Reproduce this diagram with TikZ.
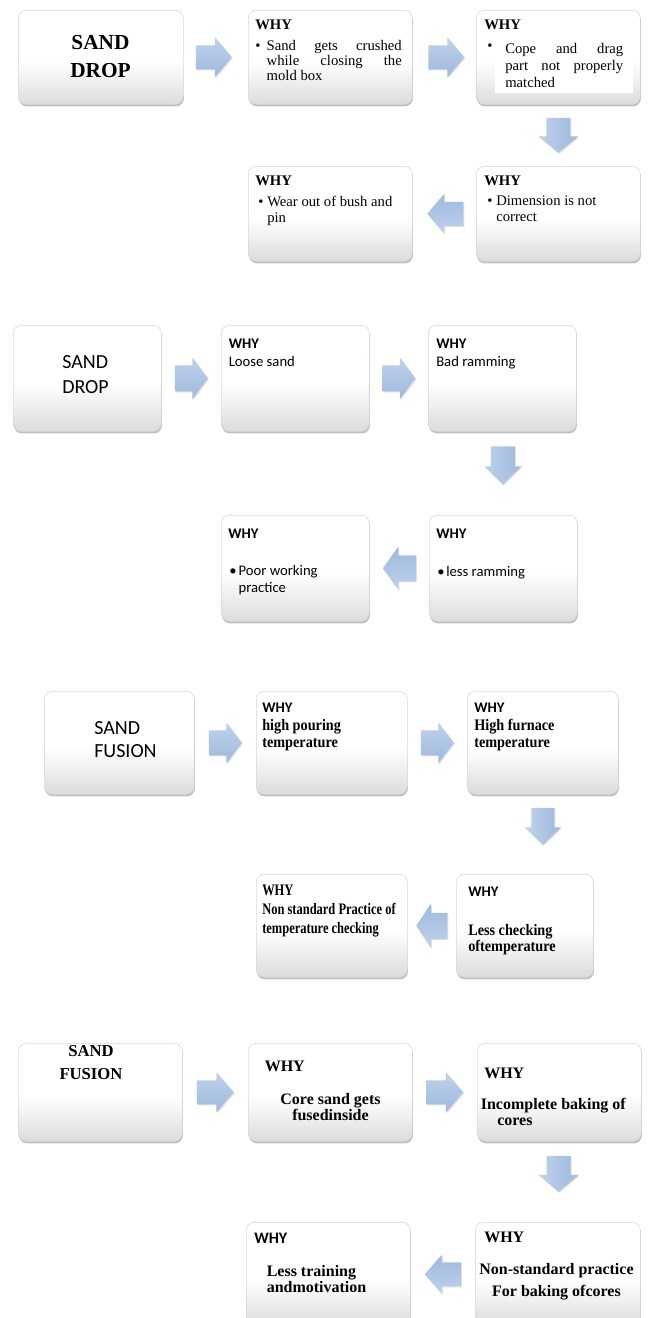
\documentclass[tikz,border=0pt]{standalone}
\usepackage{fontspec}
\setmainfont{Liberation Serif}
\newfontfamily\calfont{Carlito}
\newfontfamily\cnda[FakeStretch=0.89]{Liberation Serif}
\newfontfamily\cndb[FakeStretch=0.78]{Liberation Serif}
\usetikzlibrary{shadows,calc}
\definecolor{arrA}{HTML}{BFD2EC}
\definecolor{arrB}{HTML}{9EB8DD}
\pgfdeclareverticalshading{boxshade}{100bp}{color(0bp)=(black!14); color(25bp)=(black!14); color(36bp)=(black!7); color(48bp)=(white); color(100bp)=(white)}
\tikzset{
  wbox/.style={rectangle, rounded corners=6pt, draw=black!16, line width=0.4pt,
    shading=boxshade, inner sep=0pt, anchor=north west,
    drop shadow={shadow xshift=0.5pt, shadow yshift=-1.6pt, opacity=0.35, fill=black!70}},
  arrstyle/.style={top color=arrA, bottom color=arrB, shading angle=#1,
    drop shadow={shadow xshift=0.8pt, shadow yshift=-0.8pt, opacity=0.2, fill=black!60}},
  txt/.style={anchor=base west, inner sep=0pt},
  ctxt/.style={anchor=base, inner sep=0pt}
}
\newcommand\wb[5]{\node[wbox, minimum width=#4*0.75pt, minimum height=#5*0.75pt] (#1) at (#2,#3) {};}
% block arrow: name, position, rotation, length, head height, shaft height
\newcommand\barr[6]{%
  \coordinate (#1) at #2;
  \begin{scope}[shift={(#1)}, rotate=#3]
    \path[arrstyle=-#3] ({-#4/2},{-#6/2}) -- ({0.03*#4},{-#6/2}) -- ({0.03*#4},{-#5/2})
      -- ({#4/2},0) -- ({0.03*#4},{#5/2}) -- ({0.03*#4},{#6/2}) -- ({-#4/2},{#6/2}) -- cycle;
  \end{scope}}
\begin{document}
\begin{tikzpicture}[x=0.75pt, y=-0.75pt]
\useasboundingbox (0,0) rectangle (648,1318);
\clip (0,0) rectangle (648,1318);
\fill[white] (0,0) rectangle (648,1318);

% ---------------- Section 1 ----------------
\wb{s1a}{18}{10}{165}{94}
\wb{s1b}{248}{10}{164}{94}
\wb{s1c}{476}{10}{164}{94}
\wb{s1d}{476}{166}{164}{95}
\wb{s1e}{248}{166}{164}{95}
\barr{a1ab}{($(s1a.east)!0.5!(s1b.west)+(-2,0)$)}{0}{36}{40}{24}
\barr{a1bc}{($(s1b.east)!0.5!(s1c.west)+(2,0)$)}{0}{36}{40}{24}
\barr{a1cd}{($(s1c.south)!0.5!(s1d.north)$)}{-90}{35}{40}{24}
\barr{a1de}{($(s1d.west)!0.5!(s1e.east)+(1,0)$)}{180}{36}{40}{24}

\node[ctxt] (t1a) at (100.5,49) {\parbox[t]{90pt}{\centering\fontsize{16}{21}\selectfont\bfseries SAND\\DROP}};
\node[txt] (w1b) at (255,29.3) {\fontsize{11}{12}\selectfont\bfseries WHY};
\node[txt] (t1b) at (255,50) {\fontsize{11}{11.6}\selectfont\makebox[8.6pt][l]{\textbullet}\parbox[t]{101.3pt}{Sand\hfill gets\hfill crushed\\ while\hfill closing\hfill the\\ mold box}};
\node[txt] (w1c) at (484,29.3) {\fontsize{11}{12}\selectfont\bfseries WHY};
\node[txt] (u1c) at (487,50) {\fontsize{11}{12}\selectfont\textbullet};
\node[txt, fill=white, inner xsep=7.5pt, inner ysep=4pt] (t1c) at (495,53.3) {\fontsize{11}{13}\selectfont\parbox[t]{88.5pt}{Cope\hfill and\hfill drag\\ part\hfill not\hfill properly\\ matched}};
\node[txt] (w1d) at (484,185) {\fontsize{11}{12}\selectfont\bfseries WHY};
\node[txt] (t1d) at (487,205) {\fontsize{11}{12.5}\selectfont\makebox[6.75pt][l]{\textbullet}\parbox[t]{105pt}{Dimension is not\\ correct}};
\node[txt] (w1e) at (255,185) {\fontsize{11}{12}\selectfont\bfseries WHY};
\node[txt] (t1e) at (258,206) {\fontsize{11}{12}\selectfont\makebox[6.75pt][l]{\textbullet}\parbox[t]{110pt}{Wear out of bush and\\ pin}};

% ---------------- Section 2 ----------------
\wb{s2a}{13}{325}{148}{106}
\wb{s2b}{221}{325}{148}{106}
\wb{s2c}{428}{325}{148}{106}
\wb{s2d}{429}{515}{148}{106}
\wb{s2e}{221}{515}{148}{106}
\barr{a2ab}{($(s2a.east)!0.5!(s2b.west)$)}{0}{33}{42}{26}
\barr{a2bc}{($(s2b.east)!0.5!(s2c.west)$)}{0}{33}{42}{26}
\barr{a2cd}{($(s2c.south)!0.5!(s2d.north)+(0,-8)$)}{-90}{38}{37}{24}
\barr{a2de}{($(s2d.west)!0.5!(s2e.east)$)}{180}{33}{43}{26}

\node[txt] (t2a) at (62,368.3) {\parbox[t]{70pt}{\calfont\fontsize{15}{18.75}\selectfont SAND\\DROP}};
\node[txt] (t2b) at (228.5,348.3) {\parbox[t]{100pt}{\calfont\fontsize{11}{13.8}\selectfont\textbf{WHY}\\Loose sand}};
\node[txt] (t2c) at (436,348.3) {\parbox[t]{100pt}{\calfont\fontsize{11}{13.8}\selectfont\textbf{WHY}\\Bad ramming}};
\node[txt] (w2d) at (436,538.3) {\calfont\fontsize{11}{13}\selectfont\bfseries WHY};
\node[txt] (t2d) at (437,576.7) {\calfont\fontsize{11}{13}\selectfont\makebox[6.75pt][l]{\textbullet}less ramming};
\node[txt] (w2e) at (228,538.3) {\calfont\fontsize{11}{13}\selectfont\bfseries WHY};
\node[txt] (t2e) at (229,575) {\calfont\fontsize{11}{13.3}\selectfont\makebox[7pt][l]{\textbullet}\parbox[t]{100pt}{Poor working\\practice}};

% ---------------- Section 3 ----------------
\wb{s3a}{44}{691}{150}{103}
\wb{s3b}{256}{691}{151}{103}
\wb{s3c}{467}{691}{151}{103}
\wb{s3d}{456}{874}{137}{103}
\wb{s3e}{256}{874}{151}{103}
\barr{a3ab}{($(s3a.east)!0.5!(s3b.west)$)}{0}{33}{41}{25}
\barr{a3bc}{($(s3b.east)!0.5!(s3c.west)$)}{0}{33}{41}{25}
\barr{a3cd}{($(s3c.south)!0.5!(s3c.south|-s3d.north)+(0,-8)$)}{-90}{37}{36}{23}
\barr{a3de}{($(s3d.west)!0.5!(s3e.east)$)}{180}{31}{44}{26}

\node[txt] (t3a) at (94,734) {\parbox[t]{80pt}{\calfont\fontsize{15}{17.5}\selectfont SAND\\FUSION}};
\node[txt] (w3b) at (262,712.3) {\calfont\bfseries\fontsize{11}{13}\selectfont WHY};
\node[txt] (t3b) at (262,730) {\parbox[t]{100pt}{\cnda\bfseries\fontsize{12}{13.3}\selectfont high pouring\\temperature}};
\node[txt] (w3c) at (474,712.3) {\calfont\bfseries\fontsize{11}{13}\selectfont WHY};
\node[txt] (t3c) at (474,730) {\parbox[t]{100pt}{\cnda\bfseries\fontsize{12}{13.3}\selectfont High furnace\\temperature}};
\node[txt] (w3d) at (468,896) {\calfont\bfseries\fontsize{11}{13}\selectfont WHY};
\node[txt] (t3d) at (468,935) {\parbox[t]{95pt}{\cnda\bfseries\fontsize{12}{12.5}\selectfont Less checking\\oftemperature}};
\node[txt] (w3e) at (262,895) {\cndb\bfseries\fontsize{12}{13}\selectfont WHY};
\node[txt] (t3e) at (262,914.3) {\parbox[t]{110pt}{\cndb\bfseries\fontsize{12}{14.25}\selectfont Non standard Practice of\\temperature checking}};

% ---------------- Section 4 ----------------
\wb{s4a}{18}{1043}{164}{98}
\wb{s4b}{248}{1043}{164}{98}
\wb{s4c}{477}{1043}{164}{98}
\wb{s4d}{475}{1222}{165}{104}
\wb{s4e}{246}{1222}{164}{104}
\barr{a4ab}{($(s4a.east)!0.5!(s4b.west)$)}{0}{37}{40}{24}
\barr{a4bc}{($(s4b.east)!0.5!(s4c.west)$)}{0}{37}{40}{24}
\barr{a4cd}{($(s4c.south)!0.5!(s4d.north)+(0,-8)$)}{-90}{36}{40}{24}
\barr{a4de}{($(s4d.west)!0.5!(s4e.east)$)}{180}{36}{39}{24}

\node[ctxt] (t4a) at (91,1056) {\parbox[t]{90pt}{\centering\bfseries\fontsize{12.5}{17.25}\selectfont SAND\\FUSION}};
\node[txt] (w4b) at (264.5,1071.7) {\bfseries\fontsize{12}{13}\selectfont WHY};
\node[ctxt] (t4b) at (330.5,1104) {\parbox[t]{110pt}{\centering\bfseries\fontsize{12}{12}\selectfont Core sand gets\\fusedinside}};
\node[txt] (w4c) at (484,1078.3) {\bfseries\fontsize{12}{13}\selectfont WHY};
\node[txt] (t4c) at (480.6,1109.3) {\parbox[t]{120pt}{\bfseries\fontsize{12}{12.5}\selectfont Incomplete baking of\\\hspace*{12.3pt}cores}};
\node[txt] (w4d) at (484,1242.3) {\bfseries\fontsize{12}{13}\selectfont WHY};
\node[ctxt] (t4d) at (556.5,1274.3) {\parbox[t]{125pt}{\centering\bfseries\fontsize{12}{16.8}\selectfont Non-standard practice\\For baking ofcores}};
\node[txt] (w4e) at (254,1243.3) {\calfont\bfseries\fontsize{12}{13}\selectfont WHY};
\node[txt] (t4e) at (266.5,1276) {\parbox[t]{100pt}{\bfseries\fontsize{12}{12.5}\selectfont Less training\\andmotivation}};
\end{tikzpicture}
\end{document}
